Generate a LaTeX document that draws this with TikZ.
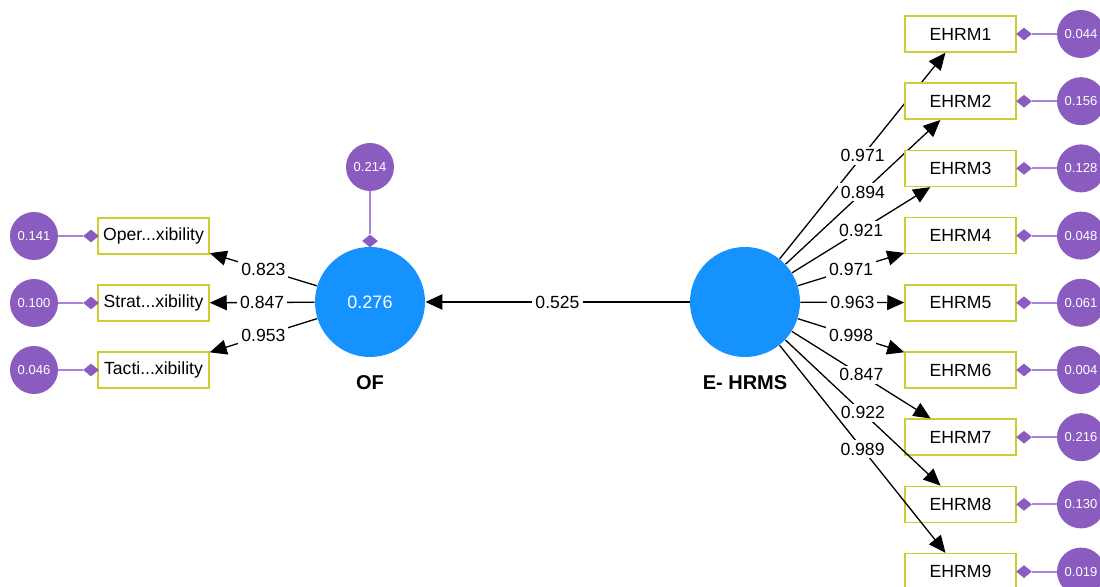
\documentclass[tikz,border=0pt]{standalone}
\usepackage{fontspec}
\setmainfont{Liberation Sans}
\usetikzlibrary{arrows.meta,shapes.geometric}
\definecolor{latentblue}{RGB}{22,146,255}
\definecolor{residpurple}{RGB}{138,92,192}
\definecolor{errpurple}{RGB}{165,132,218}
\definecolor{boxyellow}{RGB}{204,204,51}
\tikzset{
  latent/.style={circle,fill=latentblue,minimum size=55pt,inner sep=0pt,
    text=white,font=\fontsize{9}{10}\selectfont},
  indicator/.style={rectangle,draw=boxyellow,line width=0.75pt,fill=white,
    minimum width=55.5pt,minimum height=18pt,inner sep=0pt,
    font=\fontsize{8.8}{10}\selectfont},
  resid/.style={circle,fill=residpurple,minimum size=24pt,inner sep=0pt,
    text=white,font=\fontsize{6.5}{7}\selectfont},
  tip/.style={diamond,fill=residpurple,minimum width=8pt,minimum height=6.5pt,inner sep=0pt},
  loading/.style={-{Triangle[length=8.5pt,width=7.5pt]},line width=0.65pt},
  errline/.style={draw=errpurple,line width=1pt},
  value/.style={fill=white,inner sep=1.5pt,font=\fontsize{8.8}{10}\selectfont},
  lvname/.style={font=\fontsize{10}{11}\selectfont\bfseries}
}

\begin{document}
\begin{tikzpicture}[x=0.5pt,y=-0.5pt]
    \useasboundingbox (0,0) rectangle (1100,587);
    \node[latent](of) at (370,302) {0.276};
    \node[latent](ehrms) at (745,302) {};
    \node[lvname](ofname) at (370,383) {OF};
    \node[lvname](ehrmsname) at (745,383) {E- HRMS};
    \node[resid](r0) at (370,167) {0.214};
    \node[tip](d0) at (370,241) {};
    \draw[errline] (r0) -- (d0);
    \draw[loading,line width=1.25pt] (ehrms) -- node[value] {0.525} (of);
    % left block
    \node[indicator](oper) at (153.5,236) {Oper...xibility};
    \node[indicator](strat) at (153.5,303) {Strat...xibility};
    \node[indicator](tacti) at (153.5,370) {Tacti...xibility};
    \node[tip](doper) at (91,236) {};
    \node[tip](dstrat) at (91,303) {};
    \node[tip](dtacti) at (91,370) {};
    \node[resid](roper) at (34,236) {0.141};
    \node[resid](rstrat) at (34,303) {0.100};
    \node[resid](rtacti) at (34,370) {0.046};
    \draw[errline] (roper) -- (doper);
    \draw[errline] (rstrat) -- (dstrat);
    \draw[errline] (rtacti) -- (dtacti);
    \draw[loading] (of) -- node[value] {0.823} (oper);
    \draw[loading] (of) -- node[value] {0.847} (strat);
    \draw[loading] (of) -- node[value] {0.953} (tacti);
    % right block
    \foreach \i/\y/\e/\l in {1/34/0.044/0.971,2/101.2/0.156/0.894,3/168.4/0.128/0.921,
        4/235.6/0.048/0.971,5/302.8/0.061/0.963,6/370/0.004/0.998,
        7/437.2/0.216/0.847,8/504.4/0.130/0.922,9/571.6/0.019/0.989} {
        \node[indicator](ehrm\i) at (960.5,\y) {EHRM\i};
        \node[tip](d\i) at (1024,\y) {};
        \node[resid](r\i) at (1081,\y) {\e};
        \draw[errline] (r\i) -- (d\i);
        \draw[loading] (ehrms) -- node[value] {\l} (ehrm\i);
    }
\end{tikzpicture}
\end{document}
